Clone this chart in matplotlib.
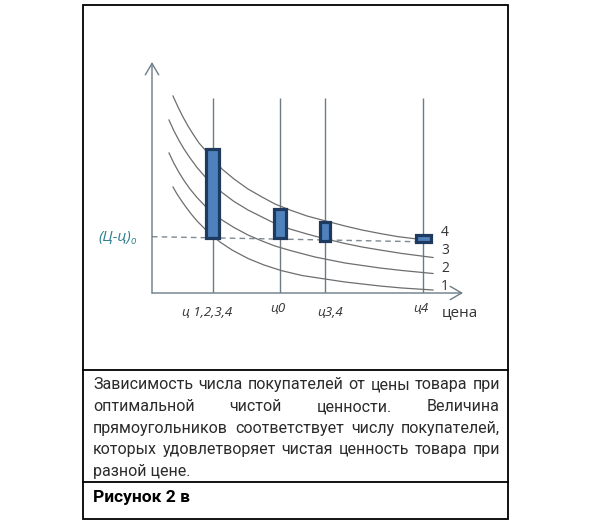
import matplotlib
matplotlib.use('Agg')
import matplotlib.pyplot as plt
from matplotlib.patches import Rectangle
from matplotlib.lines import Line2D

# ---------------- data (schematic units: pixels from origin) ----------------
price_x = [61, 128, 173, 271]
price_labels = ['ц 1,2,3,4', 'ц0', 'ц3,4', 'ц4']
vline_top = 195

bar_bottom = [55, 55, 52, 51]
bar_top = [144, 84, 71, 58.5]
bar_width = [13, 12, 10, 15]

curve4_x = [21, 26, 31, 36, 41, 47, 54, 62, 70, 82, 96, 110, 123, 138, 155, 170, 193, 210, 228, 245, 265]
curve4_y = [197, 186, 176, 167, 159, 150, 142, 133, 124, 114, 104, 96, 89, 83, 77, 73, 67, 63, 59.5, 56.5, 54]
curve3_x = [17, 22, 27, 32, 37, 45, 55, 62, 70, 82, 96, 110, 123, 138, 155, 170, 193, 210, 228, 250, 281]
curve3_y = [173, 162, 152.5, 144, 136.5, 125.5, 114, 107.5, 100.5, 91.5, 83, 76, 69.5, 64, 59, 55, 49.5, 46, 43, 39.5, 35.5]
curve2_x = [17, 22, 27, 32, 38, 45, 55, 62, 70, 82, 96, 110, 123, 140, 163, 193, 228, 250, 281]
curve2_y = [140, 129.5, 120.5, 112.5, 104, 95.5, 85, 79, 73, 65.5, 58, 52, 47, 42, 36, 30, 25, 22.5, 19.5]
curve1_x = [21, 25, 30, 35, 40, 46, 53, 60, 68, 80, 96, 112, 129, 150, 173, 193, 228, 250, 281]
curve1_y = [106, 99, 91.5, 84.5, 78, 71, 64, 57.5, 51, 43, 34.5, 28, 22.5, 17.5, 14, 11, 7, 5, 3]
curve_labels = ['4', '3', '2', '1']
curve_label_y = [60.7, 42, 24, 7]

dash_x = [0, 265]
dash_y = [56.3, 51.3]

caption_lines = [
    'Зависимость числа покупателей от цены товара при',
    'оптимальной чистой ценности. Величина',
    'прямоугольников соответствует числу покупателей,',
    'которых удовлетворяет чистая ценность товара при',
    'разной цене.',
]
figure_title = 'Рисунок 2 в'

# ---------------- figure ----------------
W, H = 591, 523
fig = plt.figure(figsize=(W / 100, H / 100), dpi=100)
fig.patch.set_facecolor('white')


def fx(px):
    return px / W


def fy(py):
    return 1 - py / H


FONT = ['Open Sans', 'DejaVu Sans']
CAPFONT = ['Roboto', 'DejaVu Sans']
axis_col = '#6b7c87'
curve_col = '#6e6e6e'

# frame of the picture
fig.add_artist(Rectangle((fx(83), fy(519)), fx(507.5) - fx(83), fy(4.5) - fy(519),
                         transform=fig.transFigure, fill=False, ec='black', lw=1.3))
for py in (370, 481.5):
    fig.add_artist(Line2D([fx(83), fx(507.5)], [fy(py), fy(py)],
                          transform=fig.transFigure, color='black', lw=1.3))

# chart axes
ax = fig.add_axes([fx(152), fy(293), (463 - 152) / W, (293 - 62) / H])
ax.set_xlim(0, 311)
ax.set_ylim(0, 231)
ax.axis('off')

ax.vlines(price_x, 0, vline_top, color=axis_col, lw=1, zorder=1)
for cx, cy in [(curve4_x, curve4_y), (curve3_x, curve3_y),
               (curve2_x, curve2_y), (curve1_x, curve1_y)]:
    ax.plot(cx, cy, color=curve_col, lw=0.9, zorder=2, clip_on=False,
            solid_joinstyle='round')
ax.plot(dash_x, dash_y, color='#7d8a92', lw=1, ls=(0, (4, 3)), zorder=2, clip_on=False)

heights = [t - b for t, b in zip(bar_top, bar_bottom)]
ax.bar(price_x, heights, bottom=bar_bottom, width=bar_width, color='#4f81bd',
       edgecolor='#1f3a5f', lw=2.3, zorder=3)

arrow_kw = dict(arrowstyle='->,head_length=0.55,head_width=0.32', color=axis_col,
                lw=1, shrinkA=0, shrinkB=0, mutation_scale=15)
ax.annotate('', xy=(311, 0), xytext=(0, 0), arrowprops=arrow_kw, annotation_clip=False)
ax.annotate('', xy=(0, 231), xytext=(0, 0), arrowprops=arrow_kw, annotation_clip=False)

# curve numbers
for lab, ly in zip(curve_labels, curve_label_y):
    ax.text(293, ly, lab, fontsize=10, color='#333333', ha='center', va='center',
            family=FONT, clip_on=False)

# price labels
label_pos = [(55.5, -20), (125.5, -15), (178, -19), (268.5, -15)]
for (lx, ly), lab in zip(label_pos, price_labels):
    ax.text(lx, ly, lab, fontsize=9.5, style='italic', color='#333333',
            ha='center', va='center', family=FONT, clip_on=False)
ax.text(308, -20, 'цена', fontsize=11, color='#333333', ha='center', va='center',
        family=FONT, clip_on=False)

# (Ц-ц)o label
ax.text(-21, 56, '(Ц-ц)', fontsize=11, style='italic', color='#2f7f8f',
        ha='right', va='center', family=FONT, clip_on=False)
ax.text(-21, 52, 'o', fontsize=7, style='italic', color='#2f7f8f',
        ha='left', va='center', family=FONT, clip_on=False)

# ---------------- caption (justified) ----------------
renderer = fig.canvas.get_renderer()


def text_w(s, **kw):
    t = fig.text(0, 0, s, **kw)
    w = t.get_window_extent(renderer).width
    t.remove()
    return w


fs = 10 * 400 / text_w(caption_lines[0], fontsize=10, family=CAPFONT)
x0, x1 = 93, 500
baselines = [389, 411, 432.5, 454, 476]
for i, (line, by) in enumerate(zip(caption_lines, baselines)):
    words = line.split(' ')
    if i == len(caption_lines) - 1:
        fig.text(fx(x0), fy(by), line, fontsize=fs, family=CAPFONT, color='#2b2b2b',
                 ha='left', va='baseline')
        continue
    widths = [text_w(w, fontsize=fs, family=CAPFONT) for w in words]
    gap = (x1 - x0 - sum(widths)) / (len(words) - 1)
    x = x0
    for w, wd in zip(words, widths):
        fig.text(fx(x), fy(by), w, fontsize=fs, family=CAPFONT, color='#2b2b2b',
                 ha='left', va='baseline')
        x += wd + gap

fsb = 10 * 97 / text_w(figure_title, fontsize=10, family=CAPFONT, weight='bold')
fig.text(fx(93), fy(502), figure_title, fontsize=fsb, family=CAPFONT, weight='bold',
         color='black', ha='left', va='baseline')

fig.savefig('out.png', dpi=100, facecolor='white')
